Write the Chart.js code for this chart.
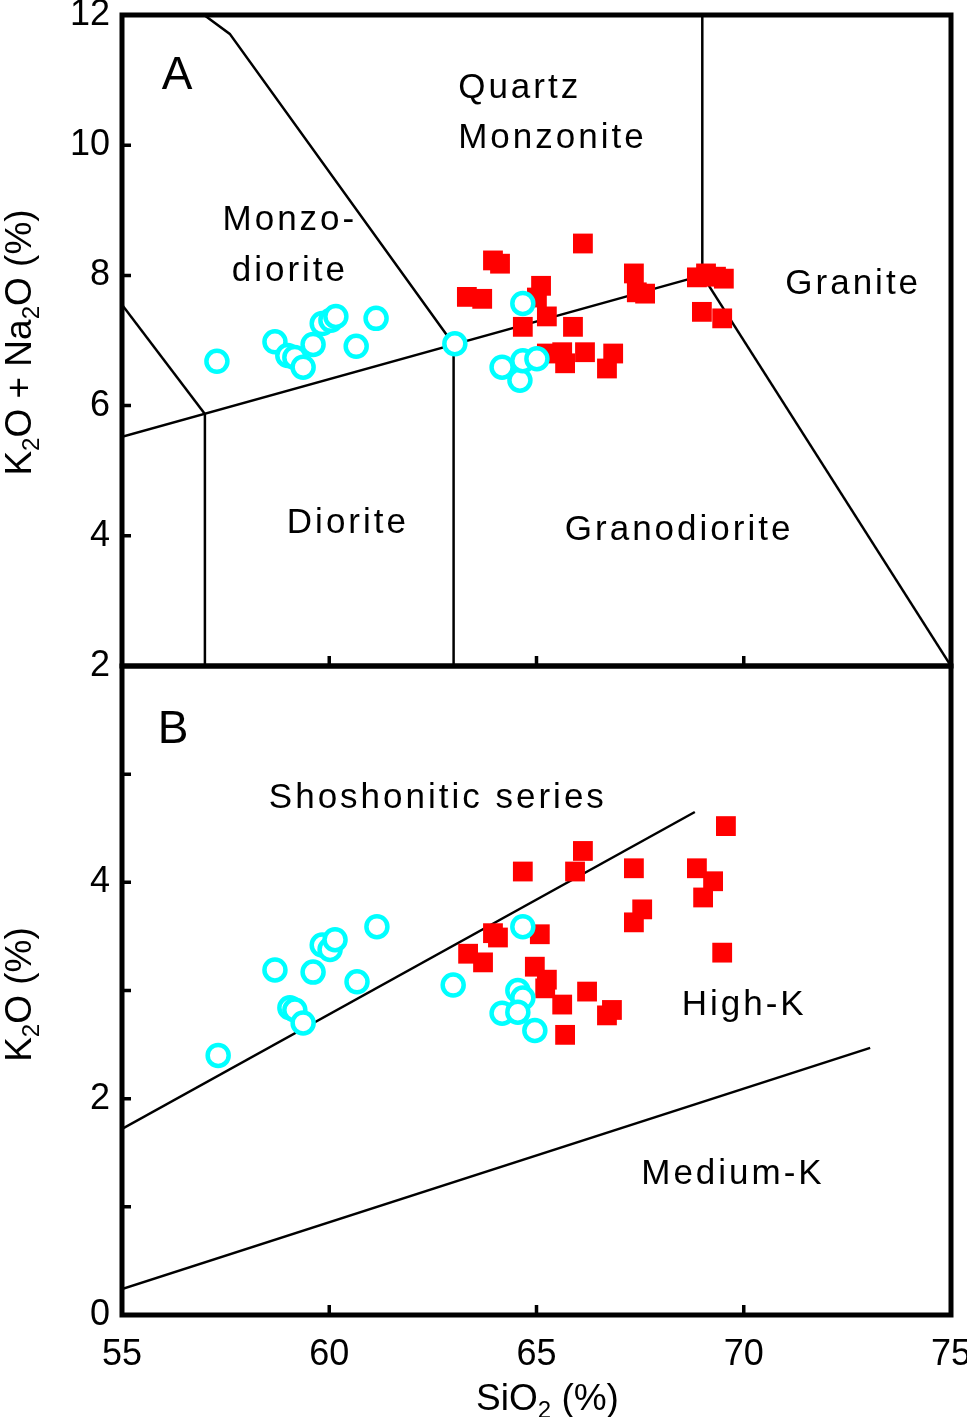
<!DOCTYPE html>
<html>
<head>
<meta charset="utf-8">
<script src="https://cdn.jsdelivr.net/npm/chart.js@4/dist/chart.umd.min.js"></script>
<style>
  html, body { margin: 0; padding: 0; background: #fff; }
  #wrap { position: relative; width: 967px; height: 1417px; }
  #wrap canvas { position: absolute; left: 0; top: 0; }
</style>
</head>
<body>
<div id="wrap">
  <canvas id="tas" width="967" height="1417"></canvas>
  <canvas id="k2o" width="967" height="1417"></canvas>
</div>
<script>
// ---- samples, panel A (SiO2 vs K2O + Na2O) ----
const redSiO2A = [66.12, 63.95, 64.12, 63.32, 63.69, 65.11, 65.01, 65.25, 64.67, 65.88, 67.35, 67.42, 67.62,
                  65.25, 65.62, 65.69, 66.17, 66.85, 66.70, 68.87, 69.09, 69.33, 69.52, 68.99, 69.48];
const redAlk   = [8.49, 8.23, 8.18, 7.67, 7.64, 7.84, 7.66, 7.37, 7.21, 7.21, 8.03, 7.74, 7.72,
                  6.80, 6.82, 6.65, 6.82, 6.80, 6.57, 7.97, 8.03, 7.98, 7.95, 7.44, 7.34];
const cyanSiO2A = [57.29, 58.69, 59.00, 59.17, 59.37, 59.61, 59.83, 60.04, 60.16, 60.65, 61.13,
                   63.03, 64.67, 64.17, 64.60, 64.67, 65.01];
const cyanAlk   = [6.68, 6.98, 6.77, 6.74, 6.59, 6.94, 7.26, 7.31, 7.37, 6.91, 7.34,
                   6.95, 7.57, 6.59, 6.39, 6.69, 6.72];

// ---- samples, panel B (SiO2 vs K2O) ----
const redSiO2B = [69.57, 68.87, 69.26, 69.02, 69.48, 66.12, 64.67, 65.93, 67.35, 67.55, 67.35, 63.95,
                  64.07, 65.08, 63.35, 63.71, 64.96, 65.25, 65.21, 66.22, 65.62, 66.82, 66.70, 65.69];
const redK2O   = [4.52, 4.13, 4.01, 3.86, 3.35, 4.29, 4.10, 4.10, 4.13, 3.75, 3.63, 3.53,
                  3.49, 3.52, 3.34, 3.26, 3.22, 3.10, 3.02, 2.99, 2.87, 2.82, 2.77, 2.59];
const cyanSiO2B = [57.32, 58.69, 59.05, 59.17, 59.37, 59.61, 59.83, 60.02, 60.14, 60.67, 61.15,
                   62.99, 64.67, 64.55, 64.67, 64.17, 64.55, 64.96];
const cyanK2O   = [2.40, 3.19, 2.84, 2.82, 2.70, 3.17, 3.42, 3.38, 3.47, 3.08, 3.59,
                   3.05, 3.59, 3.00, 2.93, 2.79, 2.80, 2.63];

// ---- classification boundaries ----
const tasBoundaries = [
  [[55, 5.52], [69, 8.0]],
  [[57, 2], [57, 5.87]],
  [[57, 5.87], [55, 7.55]],
  [[63, 2], [63, 6.94]],
  [[63, 6.94], [57.6, 11.71], [56.98, 12]],
  [[69, 8.0], [69, 12]],
  [[69, 8.0], [75, 2]]
];
const k2oBoundaries = [
  [[55, 1.72], [68.82, 4.65]],
  [[55, 0.24], [73.05, 2.47]]
];

const FAMILY = '"Liberation Sans", Arial, Helvetica, sans-serif';
const tickFont = { family: FAMILY, size: 36 };

const pts = (xs, ys) => xs.map((x, i) => ({ x, y: ys[i] }));
const lineSet = seg => ({
  data: seg.map(([x, y]) => ({ x, y })),
  showLine: true, pointRadius: 0, borderColor: '#000', borderWidth: 2.5, order: 2
});
const squares = data => ({
  data, pointStyle: 'rect', pointRadius: 14, backgroundColor: '#ff0000',
  borderWidth: 0, order: 1
});
const rings = data => ({
  data, pointStyle: 'circle', pointRadius: 10.5, backgroundColor: '#fff',
  borderColor: '#00ffff', borderWidth: 4.5, order: 0
});

// text with subscript pieces: parts = [[text, isSub], ...]
function drawRich(ctx, parts, cx, cy, size, angle) {
  ctx.save();
  ctx.translate(cx, cy);
  ctx.rotate(angle);
  ctx.textAlign = 'left';
  ctx.textBaseline = 'alphabetic';
  ctx.letterSpacing = '0px';
  const fontOf = sub => `${sub ? Math.round(size * 0.64) : size}px ${FAMILY}`;
  let w = 0;
  parts.forEach(([t, sub]) => { ctx.font = fontOf(sub); w += ctx.measureText(t).width; });
  let px = -w / 2;
  const base = size * 0.358;
  parts.forEach(([t, sub]) => {
    ctx.font = fontOf(sub);
    ctx.fillText(t, px, base + (sub ? size * 0.2 : 0));
    px += ctx.measureText(t).width;
  });
  ctx.restore();
}

// frame, inward ticks, field names and axis titles
const decor = {
  id: 'decor',
  afterDatasetsDraw(chart, args, opts) {
    const { ctx, chartArea: a } = chart;
    const x = chart.scales.x, y = chart.scales.y;
    ctx.save();
    ctx.strokeStyle = '#000';
    ctx.lineCap = 'butt';
    ctx.lineWidth = 3.5;
    ctx.beginPath();
    opts.yTicks.forEach(v => {
      const py = y.getPixelForValue(v);
      ctx.moveTo(a.left, py); ctx.lineTo(a.left + 9, py);
    });
    opts.xTicks.forEach(v => {
      const px = x.getPixelForValue(v);
      ctx.moveTo(px, a.bottom); ctx.lineTo(px, a.bottom - 10);
    });
    ctx.stroke();

    ctx.lineWidth = 5;
    ctx.strokeRect(a.left, a.top, a.right - a.left, a.bottom - a.top);

    ctx.fillStyle = '#000';
    ctx.textBaseline = 'middle';
    opts.labels.forEach(l => {
      ctx.font = `${l.size || 35}px ${FAMILY}`;
      ctx.letterSpacing = (l.spacing == null ? 3 : l.spacing) + 'px';
      ctx.textAlign = l.align || 'center';
      ctx.fillText(l.text, x.getPixelForValue(l.x), y.getPixelForValue(l.y));
    });

    opts.titles.forEach(t => {
      const cy = t.rotate ? (a.top + a.bottom) / 2 + t.dy : a.bottom + t.dy;
      const cx = t.rotate ? t.dx : (a.left + a.right) / 2 + t.dx;
      drawRich(ctx, t.parts, cx, cy, 37, t.rotate ? -Math.PI / 2 : 0);
    });
    ctx.restore();
  }
};

const yFit = s => { s.width = 122; s.paddingTop = 0; s.paddingBottom = 0; };
const xFit = s => { s.height = 102; s.paddingLeft = 0; s.paddingRight = 0; };

new Chart(document.getElementById('tas'), {
  type: 'scatter',
  data: {
    datasets: [
      ...tasBoundaries.map(lineSet),
      squares(pts(redSiO2A, redAlk)),
      rings(pts(cyanSiO2A, cyanAlk))
    ]
  },
  options: {
    responsive: false,
    animation: false,
    layout: { padding: { left: 0, top: 14, right: 16, bottom: 751 } },
    plugins: {
      legend: { display: false },
      tooltip: { enabled: false },
      decor: {
        yTicks: [4, 6, 8, 10],
        xTicks: [60, 65, 70],
        labels: [
          { text: 'A', x: 56.33, y: 11.06, size: 46, spacing: 0 },
          { text: 'Quartz', x: 63.11, y: 10.88, align: 'left' },
          { text: 'Monzonite', x: 63.11, y: 10.11, align: 'left' },
          { text: 'Monzo-', x: 59.05, y: 8.84 },
          { text: 'diorite', x: 59.05, y: 8.06 },
          { text: 'Granite', x: 72.64, y: 7.87 },
          { text: 'Diorite', x: 60.45, y: 4.19 },
          { text: 'Granodiorite', x: 68.44, y: 4.09 }
        ],
        titles: [
          { rotate: true, dx: 18, dy: 2,
            parts: [['K', 0], ['2', 1], ['O + Na', 0], ['2', 1], ['O (%)', 0]] }
        ]
      }
    },
    scales: {
      x: { type: 'linear', min: 55, max: 75, display: false },
      y: {
        type: 'linear', min: 2, max: 12,
        ticks: { stepSize: 2, padding: 12, font: tickFont, color: '#000', autoSkip: false },
        grid: { display: false, drawTicks: false },
        border: { display: false },
        afterFit: yFit
      }
    }
  },
  plugins: [decor]
});

new Chart(document.getElementById('k2o'), {
  type: 'scatter',
  data: {
    datasets: [
      ...k2oBoundaries.map(lineSet),
      squares(pts(redSiO2B, redK2O)),
      rings(pts(cyanSiO2B, cyanK2O))
    ]
  },
  options: {
    responsive: false,
    animation: false,
    layout: { padding: { left: 0, top: 666, right: 16, bottom: 0 } },
    plugins: {
      legend: { display: false },
      tooltip: { enabled: false },
      decor: {
        yTicks: [1, 2, 3, 4, 5],
        xTicks: [60, 65, 70],
        labels: [
          { text: 'B', x: 56.23, y: 5.41, size: 46, spacing: 0 },
          { text: 'Shoshonitic series', x: 62.62, y: 4.78 },
          { text: 'High-K', x: 70.01, y: 2.86 },
          { text: 'Medium-K', x: 69.74, y: 1.30 }
        ],
        titles: [
          { rotate: true, dx: 18, dy: 4, parts: [['K', 0], ['2', 1], ['O (%)', 0]] },
          { rotate: false, dx: 11, dy: 82, parts: [['SiO', 0], ['2', 1], [' (%)', 0]] }
        ]
      }
    },
    scales: {
      x: {
        type: 'linear', min: 55, max: 75,
        ticks: { stepSize: 5, padding: 18, font: tickFont, color: '#000', maxRotation: 0, autoSkip: false },
        grid: { display: false, drawTicks: false },
        border: { display: false },
        afterFit: xFit
      },
      y: {
        type: 'linear', min: 0, max: 6,
        ticks: {
          stepSize: 1, padding: 12, font: tickFont, color: '#000', autoSkip: false,
          callback: v => (v % 2 === 0 && v < 6) ? v : ''
        },
        grid: { display: false, drawTicks: false },
        border: { display: false },
        afterFit: yFit
      }
    }
  },
  plugins: [decor]
});
</script>
</body>
</html>
